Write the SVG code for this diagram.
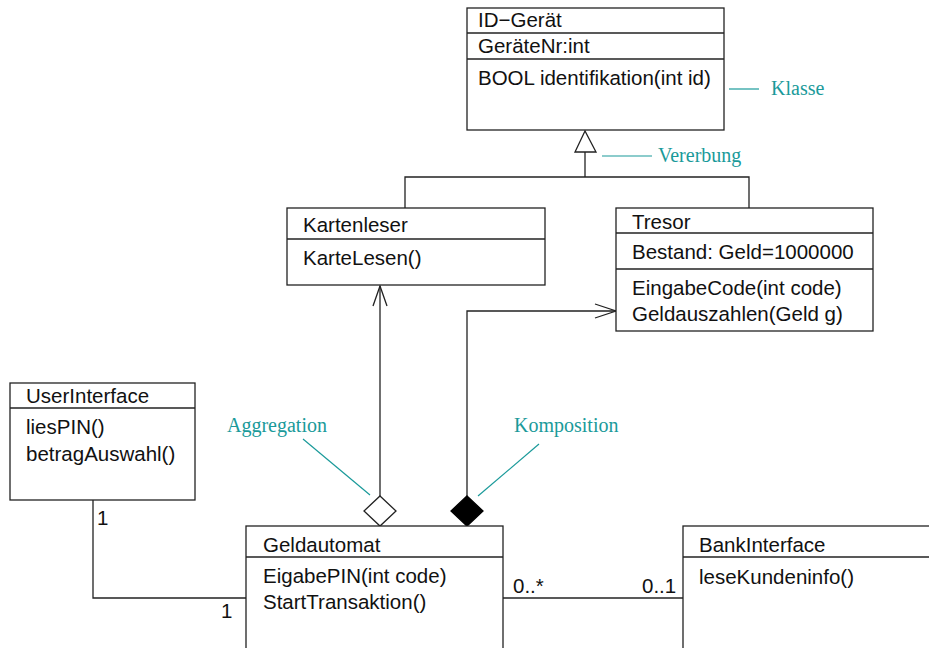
<svg xmlns="http://www.w3.org/2000/svg" width="929" height="648" viewBox="0 0 929 648">
<style>
.box{fill:#fff;stroke:#222;stroke-width:1.3}
.div{stroke:#222;stroke-width:1.3}
.t{font-family:"Liberation Sans",Arial,sans-serif;font-size:20.5px;fill:#111}
.n{font-family:"Liberation Serif","Times New Roman",serif;font-size:20px;fill:#1a9a9a}
.c{fill:none;stroke:#222;stroke-width:1.3}
.nl{fill:none;stroke:#1a9a9a;stroke-width:1.2}
</style>
<rect width="929" height="648" fill="#fff"/>
<g id="connectors">
  <polyline class="c" points="585,152 585,177"/>
  <polyline class="c" points="405,208 405,177 749,177 749,208"/>
  <polygon points="585,131 575,152 596,152" fill="#fff" stroke="#222" stroke-width="1.3"/>
  <polyline class="c" points="380,496 380,286"/>
  <polyline class="c" points="373,306 380,286 387,306"/>
  <polygon points="380,496 396,511 380,526 364,511" fill="#fff" stroke="#222" stroke-width="1.3"/>
  <polyline class="c" points="467,496 467,311 616,311"/>
  <polyline class="c" points="595,304 616,311 595,318"/>
  <polygon points="467,496 483,511 467,526 451,511" fill="#000" stroke="#000" stroke-width="1.3"/>
  <polyline class="c" points="93,500 93,598 246,598"/>
  <polyline class="c" points="503,598 683,598"/>
  <text class="t" x="97" y="525">1</text>
  <text class="t" x="221" y="618">1</text>
  <text class="t" x="513" y="593">0..*</text>
  <text class="t" x="642" y="593">0..1</text>
</g>
<g id="notes">
  <line class="nl" x1="729" y1="89" x2="759" y2="89"/>
  <text class="n" x="771" y="95">Klasse</text>
  <line class="nl" x1="602" y1="156" x2="652" y2="156"/>
  <text class="n" x="658" y="162">Vererbung</text>
  <text class="n" x="227" y="432">Aggregation</text>
  <line class="nl" x1="303" y1="439" x2="370" y2="495"/>
  <text class="n" x="514" y="432">Komposition</text>
  <line class="nl" x1="539" y1="444" x2="478" y2="496"/>
</g>
<g id="ID-Geraet">
  <rect class="box" x="467" y="8" width="257" height="122"/>
  <line class="div" x1="467" y1="33" x2="724" y2="33"/>
  <line class="div" x1="467" y1="59" x2="724" y2="59"/>
  <text class="t" x="478" y="27">ID−Gerät</text>
  <text class="t" x="478" y="53">GeräteNr:int</text>
  <text class="t" x="478" y="85">BOOL identifikation(int id)</text>
</g>
<g id="Kartenleser">
  <rect class="box" x="287" y="208" width="258" height="77"/>
  <line class="div" x1="287" y1="239" x2="545" y2="239"/>
  <text class="t" x="303" y="232">Kartenleser</text>
  <text class="t" x="303" y="265">KarteLesen()</text>
</g>
<g id="Tresor">
  <rect class="box" x="616" y="208" width="257" height="123"/>
  <line class="div" x1="616" y1="233" x2="873" y2="233"/>
  <line class="div" x1="616" y1="269" x2="873" y2="269"/>
  <text class="t" x="632" y="229">Tresor</text>
  <text class="t" x="632" y="259">Bestand: Geld=1000000</text>
  <text class="t" x="632" y="295">EingabeCode(int code)</text>
  <text class="t" x="632" y="321">Geldauszahlen(Geld g)</text>
</g>
<g id="UserInterface">
  <rect class="box" x="10" y="383" width="185" height="117"/>
  <line class="div" x1="10" y1="408" x2="195" y2="408"/>
  <text class="t" x="26" y="403">UserInterface</text>
  <text class="t" x="26" y="434">liesPIN()</text>
  <text class="t" x="26" y="461">betragAuswahl()</text>
</g>
<g id="Geldautomat">
  <rect class="box" x="246" y="526" width="257" height="140"/>
  <line class="div" x1="246" y1="557" x2="503" y2="557"/>
  <text class="t" x="263" y="552">Geldautomat</text>
  <text class="t" x="263" y="583">EigabePIN(int code)</text>
  <text class="t" x="263" y="609">StartTransaktion()</text>
</g>
<g id="BankInterface">
  <rect class="box" x="683" y="526" width="260" height="140"/>
  <line class="div" x1="683" y1="557" x2="943" y2="557"/>
  <text class="t" x="699" y="552">BankInterface</text>
  <text class="t" x="699" y="584">leseKundeninfo()</text>
</g>
</svg>
